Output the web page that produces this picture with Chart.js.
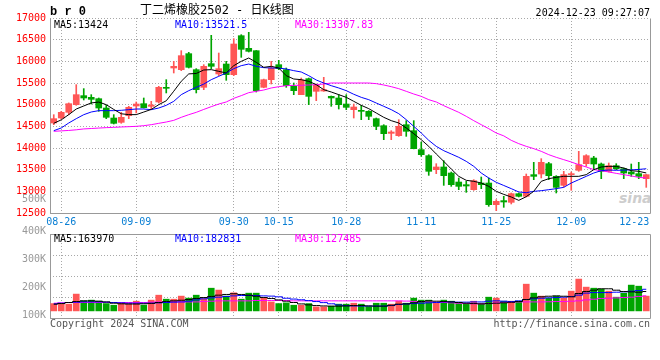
<!DOCTYPE html>
<html><head><meta charset="utf-8">
<script src="https://cdn.jsdelivr.net/npm/chart.js@4/dist/chart.umd.min.js"></script>
<style>
html,body{margin:0;padding:0;background:#fff;width:660px;height:360px;overflow:hidden}
#wrap{position:relative;width:660px;height:360px}
canvas{position:absolute;left:0}
.t{position:absolute;white-space:nowrap;font-family:'DejaVu Sans Mono',monospace;font-size:10px;line-height:10px;color:#000}
</style></head><body>
<div id="wrap">
<div class="t" style="left:619px;top:191px;font:italic bold 14px 'DejaVu Sans';line-height:14px;color:#cdcdcd">sina</div>
<canvas id="c1" width="660" height="232" style="top:0;width:660px;height:232px"></canvas>
<canvas id="c2" width="660" height="140" style="top:220px;width:660px;height:140px"></canvas>
<div class="t" style="left:50px;top:6px;font:bold 12px 'Liberation Mono';line-height:12px">b r 0</div>
<div class="t" style="left:140px;top:4px;font-size:12px;line-height:12px;font-family:'DejaVu Sans Mono','Noto Sans CJK SC'">丁二烯橡胶2502 - 日K线图</div>
<div class="t" style="right:10px;top:8px">2024-12-23 09:27:07</div>
<div class="t" id="p5" style="left:54px;top:20px;color:#000"></div>
<div class="t" id="p10" style="left:175px;top:20px;color:#0000ff"></div>
<div class="t" id="p30" style="left:295px;top:20px;color:#ff00ff"></div>
<div class="t" id="v5" style="left:54px;top:234px;color:#000"></div>
<div class="t" id="v10" style="left:175px;top:234px;color:#0000ff"></div>
<div class="t" id="v30" style="left:295px;top:234px;color:#ff00ff"></div>
<div class="t" style="left:50px;top:319px;color:#555">Copyright 2024 SINA.COM</div>
<div class="t" style="right:10px;top:319px;color:#555">http://finance.sina.com.cn</div>
</div>
<script>
const dates = ['08-23','08-26','08-27','08-28','08-29','08-30',
'09-02','09-03','09-04','09-05','09-06',
'09-09','09-10','09-11','09-12','09-13',
'09-18','09-19','09-20',
'09-23','09-24','09-25','09-26','09-27',
'09-30',
'10-08','10-09','10-10','10-11',
'10-14','10-15','10-16','10-17','10-18',
'10-21','10-22','10-23','10-24','10-25',
'10-28','10-29','10-30','10-31','11-01',
'11-04','11-05','11-06','11-07','11-08',
'11-11','11-12','11-13','11-14','11-15',
'11-18','11-19','11-20','11-21','11-22',
'11-25','11-26','11-27','11-28','11-29',
'12-02','12-03','12-04','12-05','12-06',
'12-09','12-10','12-11','12-12','12-13',
'12-16','12-17','12-18','12-19','12-20',
'12-23'];
const tickDates = ['08-26','09-09','09-30','10-15','10-28','11-11','11-25','12-09','12-23'];

const open = [14577,14692,14823,15000,15208,15169,15138,14923,14692,14592,
14746,14969,15023,14962,15062,15400,15846,15808,16177,15808,
15400,15946,15708,15938,15692,16592,16300,16246,15400,15577,
15923,15808,15423,15231,15600,15308,15315,15192,15154,15015,
14885,14869,14846,14677,14515,14338,14285,14538,14400,13962,
13823,13500,13562,13423,13215,13154,13038,13192,13192,12692,
12785,12746,12946,12885,13385,13400,13638,13346,13138,13385,
13485,13638,13769,13631,13462,13592,13523,13446,13408,13292];
const high = [14769,14846,15040,15462,15370,15231,15154,14985,14770,14823,
14962,15062,15154,15077,15423,15577,16000,16246,16208,15831,
15923,16600,16192,16000,16523,16615,16669,16250,15590,16000,
16023,15846,15500,15615,15615,15477,15631,15200,15231,15231,
15015,14985,14862,14692,14538,14400,14654,14631,14631,14138,
13846,13638,13708,13446,13308,13231,13269,13331,13308,12808,
12885,12962,12962,13400,13669,13754,13669,13362,13462,13446,
13923,13846,13808,13654,13654,13638,13538,13631,13669,13390];
const low = [14538,14670,14770,14985,15108,15015,14846,14677,14554,14570,
14677,14808,14923,14908,15038,15270,15731,15785,15846,15270,
15346,15831,15669,15562,15669,16092,16215,15292,15390,15477,
15808,15400,15231,15231,15000,15092,15308,14962,14900,14885,
14692,14654,14654,14423,14192,14192,14269,14269,13980,13808,
13369,13408,13138,13115,13038,12977,13023,13062,12654,12554,
12631,12708,12870,12869,13269,13308,13269,12962,13100,13023,
13462,13577,13500,13292,13446,13500,13292,13346,13292,13092];
const close = [14677,14823,15023,15231,15154,15123,14923,14708,14569,14708,
14938,15015,14931,14992,15400,15377,15885,16131,15862,15346,
15885,15885,15831,15692,16400,16277,16231,15323,15577,15846,
15831,15438,15323,15569,15192,15446,15346,15154,15000,14938,
14946,14846,14731,14500,14331,14369,14500,14385,13985,13846,
13462,13562,13362,13154,13115,13123,13246,13154,12692,12769,
12754,12946,12885,13346,13346,13669,13362,13092,13385,13408,
13615,13823,13631,13462,13592,13523,13423,13400,13346,13385];

const ma5 = [14570,14650,14770,14900,14970,15040,15060,15000,14890,14790,
14770,14770,14830,14890,15000,15090,15310,15540,15710,15720,
15800,15808,15769,15731,15900,16000,16077,15977,15862,15885,
15846,15669,15592,15577,15538,15462,15346,15292,15231,15169,
15077,14985,14908,14808,14708,14631,14577,14462,14331,14192,
14038,13862,13692,13515,13346,13254,13231,13192,13115,13000,
12930,12869,12792,12877,13000,13231,13292,13323,13346,13346,
13346,13385,13500,13562,13577,13577,13538,13477,13462,13424];
const ma10 = [14400,14462,14577,14677,14769,14831,14862,14862,14862,14870,
14885,14900,14900,14885,14923,14985,15077,15231,15323,15400,
15475,15577,15654,15731,15831,15900,15938,15885,15854,15846,
15846,15823,15785,15754,15669,15569,15500,15438,15385,15323,
15240,15169,15115,15038,14962,14885,14792,14654,14500,14346,
14177,14038,13938,13862,13785,13692,13577,13423,13308,13208,
13135,13062,12985,12969,13000,13015,13038,13062,13092,13192,
13269,13346,13423,13477,13492,13485,13490,13495,13505,13521.5];
const ma30 = [14385,14395,14405,14420,14440,14450,14460,14470,14477,14485,
14492,14500,14515,14538,14569,14600,14638,14708,14769,14823,
14890,14954,15015,15062,15146,15208,15277,15308,15338,15385,
15415,15438,15446,15446,15454,15462,15477,15500,15500,15500,
15500,15500,15500,15485,15454,15415,15369,15308,15246,15192,
15115,15062,14977,14900,14823,14731,14631,14538,14446,14346,
14280,14177,14100,14038,13985,13923,13846,13785,13731,13677,
13615,13562,13500,13477,13446,13415,13385,13354,13323,13307.83];

const volume = [62000,57000,57000,142000,85000,91000,82000,62000,48000,68000,
62000,82000,48000,91000,133000,99000,99000,125000,108000,133000,
104000,192000,176000,125000,153000,99000,150000,150000,110000,76000,
62000,68000,48000,48000,62000,34000,34000,40000,57000,57000,
65000,57000,36000,65000,65000,57000,82000,65000,108000,91000,
91000,65000,91000,82000,65000,65000,82000,65000,116000,108000,
82000,82000,82000,226000,150000,125000,108000,125000,108000,167000,
269000,201000,192000,184000,167000,116000,150000,218000,209000,125000];
const vma5 = [57000,62000,71000,79000,85000,85000,82000,76000,65000,60000,
58000,58000,60000,64000,71000,79000,85000,90000,96000,105000,
113000,122000,133000,139000,145000,139000,133000,124000,113000,105000,
93000,82000,71000,59000,51000,45000,42000,40000,40000,42000,
45000,45000,42000,40000,40000,48000,57000,59000,68000,79000,
85000,82000,79000,76000,71000,65000,62000,59000,62000,65000,
68000,73000,79000,96000,110000,119000,124000,127000,124000,119000,
147000,164000,175000,187000,187000,175000,164000,161000,158000,163970];
const vma10 = [59000,65000,71000,74000,76000,76000,76000,74000,71000,68000,
65000,65000,65000,65000,68000,71000,74000,76000,82000,93000,
102000,110000,116000,122000,127000,130000,130000,130000,127000,125000,
119000,107000,100000,94000,87000,79000,70000,60000,50000,44000,
42000,41000,41000,41000,41000,45000,54000,59000,62000,65000,
68000,71000,76000,76000,74000,74000,76000,76000,82000,85000,
82000,79000,85000,96000,102000,107000,110000,113000,116000,122000,
133000,150000,155000,155000,155000,158000,161000,166000,172000,182831];
const vma30 = [65000,68000,71000,71000,71000,71000,71000,71000,71000,71000,
71000,71000,71000,74000,76000,76000,76000,76000,76000,76000,
80000,82000,85000,85000,85000,85000,85000,88000,88000,88000,
88000,88000,85000,85000,85000,85000,85000,85000,85000,85000,
85000,85000,85000,85000,85000,85000,85000,83000,80000,78000,
76000,74000,71000,68000,65000,62000,60000,60000,62000,68000,
72000,74000,76000,76000,76000,76000,77000,79000,79000,82000,
85000,93000,99000,105000,107000,110000,113000,116000,122000,127485];

const volLabelTicks = [100000,200000,300000,400000];
const volOverflowTick = [500000];

const RED = '#ff5656', GREEN = '#00a500', GRID = '#a8a8a8', FRAME = '#999999';
const last = a => a[a.length - 1];
document.getElementById('p5').textContent = 'MA5:' + last(ma5);
document.getElementById('p10').textContent = 'MA10:' + last(ma10);
document.getElementById('p30').textContent = 'MA30:' + last(ma30);
document.getElementById('v5').textContent = 'MA5:' + last(vma5);
document.getElementById('v10').textContent = 'MA10:' + last(vma10);
document.getElementById('v30').textContent = 'MA30:' + last(vma30);

Chart.defaults.font.family = "'DejaVu Sans Mono', monospace";
Chart.defaults.font.size = 10;

const colors = close.map((c, i) => c >= open[i] ? RED : GREEN);
const tickIdx = tickDates.map(d => dates.indexOf(d));
const lastIdx = dates.length - 1;

const framePlugin = {
  id: 'frame',
  beforeDraw(chart) {
    // zero-width label axes: give them the left gutter as their box so labels are not clipped
    for (const id of ['yk', 'yg']) {
      const s = chart.scales[id];
      if (s) { s.left = 0; s.right = chart.chartArea.left; s.width = s.right - s.left; s._labelItems = null; }
    }
  },
  beforeDatasetsDraw(chart, args, opts) {
    const { ctx, chartArea: a } = chart;
    ctx.save();
    ctx.strokeStyle = FRAME; ctx.lineWidth = 1;
    ctx.beginPath();
    const L = Math.round(a.left) + 0.5, R = Math.round(a.right) + 0.5;
    const T = Math.round(a.top) + 0.5, B = Math.round(a.bottom) + 0.5;
    if (opts.top) { ctx.moveTo(L, T); ctx.lineTo(R, T); }
    ctx.moveTo(L, T); ctx.lineTo(L, B); ctx.lineTo(R, B); ctx.lineTo(R, T);
    ctx.stroke();
    ctx.restore();
  }
};

function xScale(showLabels, h) {
  return {
    type: 'category', offset: true,
    grid: { display: true, offset: false, drawTicks: false,
      color: c => (c.tick && c.tick.value === lastIdx) ? 'rgba(0,0,0,0)' : GRID },
    border: { display: false, dash: [1, 2] },
    ticks: { display: showLabels, autoSkip: false, maxRotation: 0, minRotation: 0, padding: 3, color: '#0a7fd4',
      callback: function (v) { const l = this.getLabelForValue(v); return v === lastIdx ? l + '    ' : l; } },
    afterBuildTicks: ax => { ax.ticks = ax.ticks.filter(t => tickIdx.includes(t.value)); },
    afterFit: s => { s.height = h; s.paddingLeft = 0; s.paddingRight = 0; }
  };
}

new Chart(document.getElementById('c1'), {
  type: 'bar',
  data: {
    labels: dates,
    datasets: [
      { type: 'line', data: ma5, borderColor: '#000000', borderWidth: 1, pointRadius: 0, tension: 0, yAxisID: 'y', order: 1 },
      { type: 'line', data: ma10, borderColor: '#0000ff', borderWidth: 1, pointRadius: 0, tension: 0, yAxisID: 'y', order: 2 },
      { type: 'line', data: ma30, borderColor: '#ff00ff', borderWidth: 1, pointRadius: 0, tension: 0, yAxisID: 'y', order: 3 },
      { type: 'bar', data: open.map((o, i) => [o, close[i]]), backgroundColor: colors, barThickness: 6, minBarLength: 1, grouped: false, yAxisID: 'y', order: 4 },
      { type: 'bar', data: low.map((l, i) => [l, high[i]]), backgroundColor: colors, barThickness: 1, grouped: false, yAxisID: 'y', order: 5 }
    ]
  },
  options: {
    responsive: false, animation: false, events: [],
    layout: { padding: { left: 0, right: 10, top: 18, bottom: 0 } },
    plugins: { legend: { display: false }, tooltip: { enabled: false }, frame: { top: false } },
    scales: {
      x: xScale(true, 19),
      y: { type: 'linear', position: 'left', weight: 1, min: 12500, max: 17000,
        ticks: { stepSize: 500, color: '#ff0000', padding: 4, callback: v => String(v) },
        grid: { color: GRID, drawTicks: false }, border: { display: false, dash: [1, 2] },
        afterFit: s => { s.width = 50; s.paddingTop = 0; s.paddingBottom = 0; } },
      yk: { type: 'linear', display: true, position: 'left', weight: 0, min: 460000, max: 1160000,
        ticks: { display: true, color: '#999999', padding: 4, labelOffset: -2, autoSkip: false, callback: v => (v / 1000) + 'K' },
        grid: { display: false, drawTicks: false }, border: { display: false },
        afterBuildTicks: ax => { ax.ticks = volOverflowTick.map(v => ({ value: v })); },
        afterFit: s => { s.width = 0; s.paddingTop = 0; s.paddingBottom = 0; } }
    }
  },
  plugins: [framePlugin]
});

new Chart(document.getElementById('c2'), {
  type: 'bar',
  data: {
    labels: dates,
    datasets: [
      { type: 'line', data: vma5, borderColor: '#000000', borderWidth: 1, pointRadius: 0, stepped: 'middle', yAxisID: 'yv', order: 1 },
      { type: 'line', data: vma10, borderColor: '#0000ff', borderWidth: 1, pointRadius: 0, stepped: 'middle', yAxisID: 'yv', order: 2 },
      { type: 'line', data: vma30, borderColor: '#ff00ff', borderWidth: 1, pointRadius: 0, stepped: 'middle', yAxisID: 'yv', order: 3 },
      { type: 'bar', data: volume, backgroundColor: colors, barThickness: 6, grouped: false, yAxisID: 'yv', order: 4 }
    ]
  },
  options: {
    responsive: false, animation: false, events: [],
    layout: { padding: { left: 0, right: 10, top: 14, bottom: 0 } },
    plugins: { legend: { display: false }, tooltip: { enabled: false }, frame: { top: true } },
    scales: {
      x: xScale(false, 42),
      yv: { type: 'linear', display: false, min: -60000, max: 650000 },
      yg: { type: 'linear', position: 'left', weight: 0, min: 0, max: 4,
        ticks: { display: false, stepSize: 1 },
        grid: { color: GRID, drawTicks: false }, border: { display: false, dash: [1, 2] },
        afterFit: s => { s.width = 0; s.paddingTop = 0; s.paddingBottom = 0; } },
      yl: { type: 'linear', position: 'left', weight: 1, min: 100000, max: 400000,
        ticks: { color: '#999999', padding: 4, labelOffset: -3, callback: v => (v / 1000) + 'K' },
        grid: { display: false, drawTicks: false }, border: { display: false },
        afterBuildTicks: ax => { ax.ticks = volLabelTicks.map(v => ({ value: v })); },
        afterFit: s => { s.width = 50; s.paddingTop = 0; s.paddingBottom = 0; } }
    }
  },
  plugins: [framePlugin]
});
</script>
</body></html>
